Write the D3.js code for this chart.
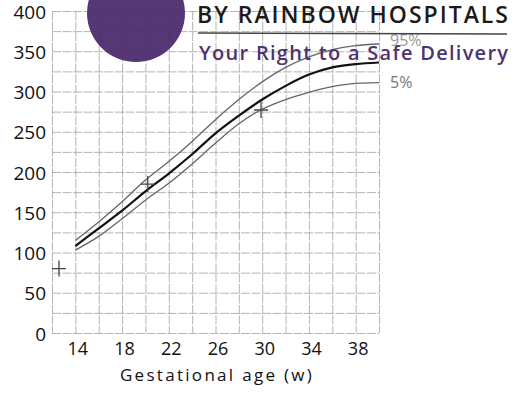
<!DOCTYPE html>
<html>
    <head>
        <script src="https://cdn.jsdelivr.net/npm/d3@7"></script>
        <style>
            body { margin: 0; background: #fff; }
            text { font-family: "Open Sans", "Noto Sans", sans-serif; }
        </style>
    </head>
    <body>
        <svg id="chart" width="516" height="402"></svg>
        <script>
            // Data
            var weeks = [14, 16, 18, 20, 22, 24, 26, 28, 30, 32, 34, 36, 38, 40];
            var p95 = [115, 138, 163, 190, 213, 238, 265, 290, 312, 330, 343, 352, 357, 359];
            var p50 = [108, 130, 152, 176, 198, 222, 248, 270, 290, 307, 321, 330, 334, 336];
            var p5  = [103, 120, 142, 165, 186, 210, 236, 260, 278, 290, 299, 306, 310, 311];
            var markWeeks = [12.6, 20.2, 29.9];
            var markValues = [80, 185, 277];
            var xTicks = [14, 18, 22, 26, 30, 34, 38];
            var yTicks = [0, 50, 100, 150, 200, 250, 300, 350, 400];
            var xGrid = d3.range(12, 41, 2);
            var yGrid = d3.range(0, 401, 25);

            var svg = d3.select("svg#chart");
            var x = d3.scaleLinear().domain([12, 40]).range([52, 379]);
            var y = d3.scaleLinear().domain([0, 400]).range([333, 11]);

            // Grid
            svg.append("g").attr("transform", "translate(0," + y(400) + ")")
                .call(d3.axisTop(x).tickValues(xGrid).tickSize(-(y(0) - y(400))).tickFormat(""))
                .call(function(g) { g.select(".domain").remove(); })
                .selectAll("line").attr("stroke", "#9c9c9c").attr("stroke-width", 0.75).attr("stroke-dasharray", "9,1.5");
            svg.append("g").attr("transform", "translate(" + x(12) + ",0)")
                .call(d3.axisLeft(y).tickValues(yGrid).tickSize(-(x(40) - x(12))).tickFormat(""))
                .call(function(g) { g.select(".domain").remove(); })
                .selectAll("line").attr("stroke", "#9c9c9c").attr("stroke-width", 0.75).attr("stroke-dasharray", "9,1.5");

            // Axes labels
            var yAxis = svg.append("g").attr("transform", "translate(" + (x(12) - 6) + ",0)")
                .call(d3.axisLeft(y).tickValues(yTicks).tickSize(0).tickPadding(0));
            yAxis.select(".domain").remove();
            yAxis.selectAll("text").style("font-size", "19px").attr("fill", "#111").attr("dy", "0.38em");

            var xAxis = svg.append("g").attr("transform", "translate(2," + y(0) + ")")
                .call(d3.axisBottom(x).tickValues(xTicks).tickSize(0).tickPadding(9));
            xAxis.select(".domain").remove();
            xAxis.selectAll("text").style("font-size", "18px").attr("fill", "#111");

            svg.append("text").attr("x", 217).attr("y", 381).attr("text-anchor", "middle")
                .style("font-size", "17px").style("letter-spacing", "2.3px").attr("fill", "#111")
                .text("Gestational age (w)");

            // Curves
            var line = d3.line().curve(d3.curveMonotoneX)
                .x(function(d) { return x(d[0]); }).y(function(d) { return y(d[1]); });
            svg.append("path").datum(d3.zip(weeks, p95)).attr("fill", "none")
                .attr("stroke", "#666").attr("stroke-width", 1.3).attr("d", line);
            svg.append("path").datum(d3.zip(weeks, p5)).attr("fill", "none")
                .attr("stroke", "#666").attr("stroke-width", 1.3).attr("d", line);
            svg.append("path").datum(d3.zip(weeks, p50)).attr("fill", "none")
                .attr("stroke", "#111").attr("stroke-width", 2.2).attr("d", line);

            // Hand drawn plus marks
            svg.append("g").selectAll("path").data(d3.zip(markWeeks, markValues)).enter().append("path")
                .attr("d", function(d) {
                    var cx = x(d[0]), cy = y(d[1]);
                    return "M" + (cx - 7) + "," + cy + "H" + (cx + 7) + "M" + cx + "," + (cy - 8) + "V" + (cy + 8);
                })
                .attr("stroke", "#444").attr("stroke-width", 1.3).attr("fill", "none");

            svg.append("text").attr("x", 390).attr("y", 88).style("font-size", "16px")
                .attr("fill", "#777").text("5%");
            svg.append("text").attr("x", 390).attr("y", 46).style("font-size", "16px")
                .attr("fill", "#999").text("95%");

            // Logo overlay
            svg.append("circle").attr("cx", 136).attr("cy", 13).attr("r", 49)
                .attr("fill", "#4a2a6c").attr("fill-opacity", 0.94);
            svg.append("text").attr("x", 197).attr("y", 23).style("font-size", "23px").style("font-weight", 600)
                .attr("textLength", 311).attr("fill", "#1a1a1a").text("BY RAINBOW HOSPITALS");
            svg.append("line").attr("x1", 198).attr("x2", 507).attr("y1", 33).attr("y2", 34)
                .attr("stroke", "#444").attr("stroke-width", 1.4);
            svg.append("text").attr("x", 199).attr("y", 60).style("font-size", "20px").style("font-weight", 600)
                .attr("textLength", 309).attr("fill", "#4e3372").text("Your Right to a Safe Delivery");
        </script>
    </body>
</html>
